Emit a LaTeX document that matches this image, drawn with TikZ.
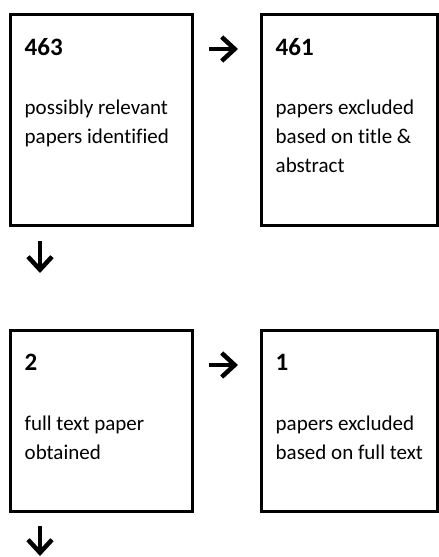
\documentclass[tikz,border=0pt]{standalone}
\usepackage{fontspec}
\setmainfont{Carlito}[Ligatures=NoCommon]
\usetikzlibrary{arrows.meta, positioning}

\begin{document}
\begin{tikzpicture}[
        x=1pt, y=-1pt,
        box/.style={rectangle, draw=black, line width=2.5pt, minimum width=182pt, inner sep=0pt, outer sep=0pt},
        num/.style={anchor=base west, inner sep=0pt, font=\fontsize{25}{30}\selectfont\bfseries},
        body/.style={anchor=base west, inner sep=0pt, align=left, font=\fontsize{21}{29}\selectfont},
        arrow/.style={-{Straight Barb[length=13pt, width=24pt]}, line width=4.5pt, draw=black}
    ]
        \useasboundingbox (0,0) rectangle (439,557);

        \node[box, minimum height=211pt] (found) at (101.5,120) {};
        \node[box, minimum height=211pt, minimum width=176pt] (excl1) at (349.5,120) {};
        \node[box, minimum height=181pt] (full) at (101.5,421) {};
        \node[box, minimum height=181pt, minimum width=176pt] (excl2) at (349.5,421) {};

        % base anchor sits on the last line
        \node[num] (n1) at ([xshift=14pt, yshift=-41pt]found.north west) {463};
        \node[body] (t1) at ([xshift=14pt, yshift=-129pt]found.north west) {possibly relevant\\papers identified};
        \node[num] (n2) at ([xshift=14pt, yshift=-41pt]excl1.north west) {461};
        \node[body] (t2) at ([xshift=14pt, yshift=-158pt]excl1.north west) {papers excluded\\based on title \&\\abstract};
        \node[num] (n3) at ([xshift=14pt, yshift=-40pt]full.north west) {2};
        \node[body] (t3) at ([xshift=14pt, yshift=-129pt]full.north west) {full text paper\\obtained};
        \node[num] (n4) at ([xshift=14pt, yshift=-40pt]excl2.north west) {1};
        \node[body] (t4) at ([xshift=14pt, yshift=-129pt]excl2.north west) {papers excluded\\based on full text};

        % arrow ends
        \coordinate (r1a) at (209,49);
        \coordinate (r1b) at (238,49);
        \coordinate (r2a) at (209,365);
        \coordinate (r2b) at (238,365);
        \coordinate (d1a) at (40,241);
        \coordinate (d1b) at (40,273);
        \coordinate (d2a) at (40,526);
        \coordinate (d2b) at (40,556);

        \draw[arrow] (r1a) -- (r1b);
        \draw[arrow] (r2a) -- (r2b);
        \draw[arrow] (d1a) -- (d1b);
        \draw[arrow] (d2a) -- (d2b);
    \end{tikzpicture}
\end{document}
